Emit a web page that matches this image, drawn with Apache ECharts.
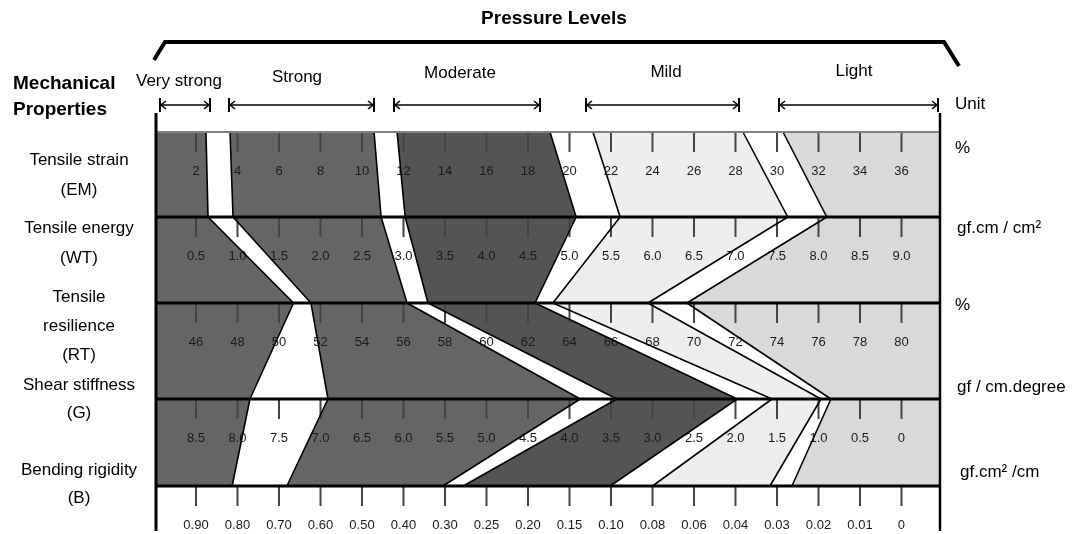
<!DOCTYPE html>
<html><head><meta charset="utf-8">
<script src="https://cdn.jsdelivr.net/npm/echarts@6/dist/echarts.min.js"></script>
<style>html,body{margin:0;padding:0;background:#fff}#c{width:1079px;height:534px}</style>
</head><body><div id="c"></div>
<script>
// ---------------- data ----------------
const LEVELS = ['Very strong', 'Strong', 'Moderate', 'Mild', 'Light'];
const PROPERTY_LINES = [
  ['Tensile strain', '(EM)'],
  ['Tensile energy', '(WT)'],
  ['Tensile', 'resilience', '(RT)'],
  ['Shear stiffness', '(G)'],
  ['Bending rigidity', '(B)']
];
const UNITS = ['%', 'gf.cm / cm²', '%', 'gf / cm.degree', 'gf.cm² /cm'];

const EM_TICKS = ['2','4','6','8','10','12','14','16','18','20','22','24','26','28','30','32','34','36'];
const WT_TICKS = ['0.5','1.0','1.5','2.0','2.5','3.0','3.5','4.0','4.5','5.0','5.5','6.0','6.5','7.0','7.5','8.0','8.5','9.0'];
const RT_TICKS = ['46','48','50','52','54','56','58','60','62','64','66','68','70','72','74','76','78','80'];
const G_TICKS  = ['8.5','8.0','7.5','7.0','6.5','6.0','5.5','5.0','4.5','4.0','3.5','3.0','2.5','2.0','1.5','1.0','0.5','0'];
const B_TICKS  = ['0.90','0.80','0.70','0.60','0.50','0.40','0.30','0.25','0.20','0.15','0.10','0.08','0.06','0.04','0.03','0.02','0.01','0'];

// zone boundaries (property units): [VS|S from, to, S|Mod from, to, Mod|Mild from, to, Mild|Light from, to]
const EM_BOUNDS = [2.48, 3.64, 10.58, 11.69, 19.06, 21.13, 28.36, 30.29];
const WT_BOUNDS = [0.645, 0.946, 2.73, 3.02, 5.08, 5.61, 7.63, 8.10];
const RT_BOUNDS = [50.70, 51.54, 56.17, 57.18, 62.34, 63.20, 67.78, 69.66];
const G_BOUNDS  = [7.85, 6.91, 3.87, 3.43, 1.98, 1.56, 0.97, 0.85];
const B_BOUNDS  = [0.813, 0.681, 0.305, 0.278, 0.101, 0.080, 0.0317, 0.0264];

// ---------------- layout / style ----------------
const XMIN = -0.964, XMAX = 17.928;
const ROW_TOP = [132, 217, 303, 399, 486];
const FRAME_TOP = 113, FRAME_BOTTOM = 531;
const ZONE_COLORS = ['#666666', '#666666', '#545454', '#eeeeee', '#d9d9d9'];
const FONT = '"Liberation Sans", Arial, sans-serif';

const SCALES = [EM_TICKS, WT_TICKS, RT_TICKS, G_TICKS, B_TICKS];
const BOUNDS = [EM_BOUNDS, WT_BOUNDS, RT_BOUNDS, G_BOUNDS, B_BOUNDS];

// piecewise-linear scale from tick labels to tick position
function toPos(ticks, v) {
  const n = ticks.map(Number);
  for (let i = 0; i < n.length - 1; i++) {
    const a = n[i], b = n[i + 1];
    if ((v - a) * (v - b) <= 0) return i + (v - a) / (b - a);
  }
  if ((v - n[0]) * (n[1] - n[0]) < 0) return (v - n[0]) / (n[1] - n[0]);
  const m = n.length - 1;
  return m + (v - n[m]) / (n[m] - n[m - 1]);
}

const edges = [ROW_TOP.map(() => XMIN)];
for (let k = 0; k < 8; k++) edges.push(BOUNDS.map((b, r) => toPos(SCALES[r], b[k])));
edges.push(ROW_TOP.map(() => XMAX));

function txt(text, x, y, opts) {
  opts = opts || {};
  return {
    type: 'text', x: x, y: y, silent: true,
    style: {
      text: text, fill: opts.fill || '#000',
      font: opts.font || ('17px ' + FONT),
      textAlign: opts.align || 'center', align: opts.align || 'center',
      textVerticalAlign: 'middle', verticalAlign: 'middle'
    }
  };
}

const graphics = [];
graphics.push(txt('Pressure Levels', 554, 19, {font: 'bold 19px ' + FONT}));
graphics.push({type: 'polyline', silent: true,
  shape: {points: [[154, 60], [165, 42], [944, 42], [959, 66]]},
  style: {stroke: '#000', lineWidth: 4, fill: null}});
graphics.push(txt('Mechanical', 13, 84, {font: 'bold 19px ' + FONT, align: 'left'}));
graphics.push(txt('Properties', 13, 110, {font: 'bold 19px ' + FONT, align: 'left'}));

const LEVEL_LABEL_POS = [[179, 81], [297, 77], [460, 73], [666, 72], [854, 71]];
const LEVEL_ARROWS = [[160, 210], [229, 374], [394, 540], [586, 739], [779, 938]];
LEVELS.forEach((l, i) => {
  graphics.push(txt(l, LEVEL_LABEL_POS[i][0], LEVEL_LABEL_POS[i][1]));
  const [a, b] = LEVEL_ARROWS[i], y = 105;
  graphics.push({type: 'line', silent: true, shape: {x1: a, y1: y, x2: b, y2: y}, style: {stroke: '#000', lineWidth: 1.5}});
  graphics.push({type: 'line', silent: true, shape: {x1: a, y1: y - 7, x2: a, y2: y + 7}, style: {stroke: '#000', lineWidth: 2}});
  graphics.push({type: 'line', silent: true, shape: {x1: b, y1: y - 7, x2: b, y2: y + 7}, style: {stroke: '#000', lineWidth: 2}});
  graphics.push({type: 'polyline', silent: true, shape: {points: [[a + 6, y - 4], [a + 1, y], [a + 6, y + 4]]}, style: {stroke: '#000', lineWidth: 1.5, fill: null}});
  graphics.push({type: 'polyline', silent: true, shape: {points: [[b - 6, y - 4], [b - 1, y], [b - 6, y + 4]]}, style: {stroke: '#000', lineWidth: 1.5, fill: null}});
});

const PROP_LABEL_Y = [[160, 190], [228, 258], [297, 326, 355], [385, 413], [470, 498]];
PROPERTY_LINES.forEach((lines, i) => {
  lines.forEach((t, j) => graphics.push(txt(t, 79, PROP_LABEL_Y[i][j])));
});
graphics.push(txt('Unit', 955, 104, {align: 'left'}));
const UNIT_Y = [148, 228, 305, 387, 472];
const UNIT_X = [955, 957, 955, 957, 960];
UNITS.forEach((u, i) => graphics.push(txt(u, UNIT_X[i], UNIT_Y[i], {align: 'left'})));

// ---------------- series ----------------
const series = [];
series.push({
  type: 'custom', name: 'zones', z: 1, silent: true,
  data: LEVELS.map((l, i) => [i, ROW_TOP[0]]),
  renderItem: function (params, api) {
    const z = params.dataIndex;
    const L = edges[2 * z], R = edges[2 * z + 1];
    const pts = [];
    L.forEach((x, i) => pts.push(api.coord([x, ROW_TOP[i]])));
    for (let i = R.length - 1; i >= 0; i--) pts.push(api.coord([R[i], ROW_TOP[i]]));
    return {type: 'polygon', shape: {points: pts}, style: {fill: ZONE_COLORS[z]}};
  }
});
series.push({
  type: 'custom', name: 'scales', z: 2, silent: true,
  data: SCALES.map((s, i) => [i, ROW_TOP[i]]),
  renderItem: function (params, api) {
    const r = params.dataIndex;
    const ticks = SCALES[r];
    const children = [];
    ticks.forEach((t, k) => {
      const p0 = api.coord([k, ROW_TOP[r] + 1]);
      const p1 = api.coord([k, ROW_TOP[r] + 20]);
      children.push({type: 'line', shape: {x1: p0[0], y1: p0[1], x2: p1[0], y2: p1[1]}, style: {stroke: '#444', lineWidth: 2}});
      const pl = api.coord([k, ROW_TOP[r] + 39]);
      children.push({type: 'text', style: {text: t, x: pl[0], y: pl[1], fill: '#1a1a1a',
        font: '13px ' + FONT, textAlign: 'center', align: 'center', textVerticalAlign: 'middle', verticalAlign: 'middle'}});
    });
    return {type: 'group', children: children};
  }
});
for (let k = 1; k <= 8; k++) {
  series.push({
    type: 'line', name: 'edge' + k, z: 3, silent: true, symbol: 'none',
    data: ROW_TOP.map((y, i) => [edges[k][i], y]),
    lineStyle: {color: '#000', width: 1.6}
  });
}
series.push({
  type: 'custom', name: 'frame', z: 4, silent: true,
  data: [[0, ROW_TOP[0]]],
  renderItem: function (params, api) {
    const ch = [];
    const hl = (y, w, c) => {
      const a = api.coord([XMIN, y]), b = api.coord([XMAX, y]);
      ch.push({type: 'line', shape: {x1: a[0], y1: a[1], x2: b[0], y2: b[1]}, style: {stroke: c, lineWidth: w}});
    };
    hl(ROW_TOP[0], 2, '#808080');
    for (let i = 1; i < ROW_TOP.length; i++) hl(ROW_TOP[i], 3, '#000');
    const vl = (x, w) => {
      const a = api.coord([x, FRAME_TOP]), b = api.coord([x, FRAME_BOTTOM]);
      ch.push({type: 'line', shape: {x1: a[0], y1: a[1], x2: b[0], y2: b[1]}, style: {stroke: '#000', lineWidth: w}});
    };
    vl(XMIN, 3); vl(XMAX, 2.5);
    return {type: 'group', children: ch};
  }
});

const chart = echarts.init(document.getElementById('c'));
chart.setOption({
  animation: false,
  backgroundColor: '#fff',
  grid: {left: 156, right: 1079 - 940, top: 0, bottom: 534 - 531},
  xAxis: {type: 'value', min: XMIN, max: XMAX, show: false},
  yAxis: {type: 'value', min: 0, max: 531, inverse: true, show: false},
  graphic: graphics,
  series: series
});
</script>
</body></html>
